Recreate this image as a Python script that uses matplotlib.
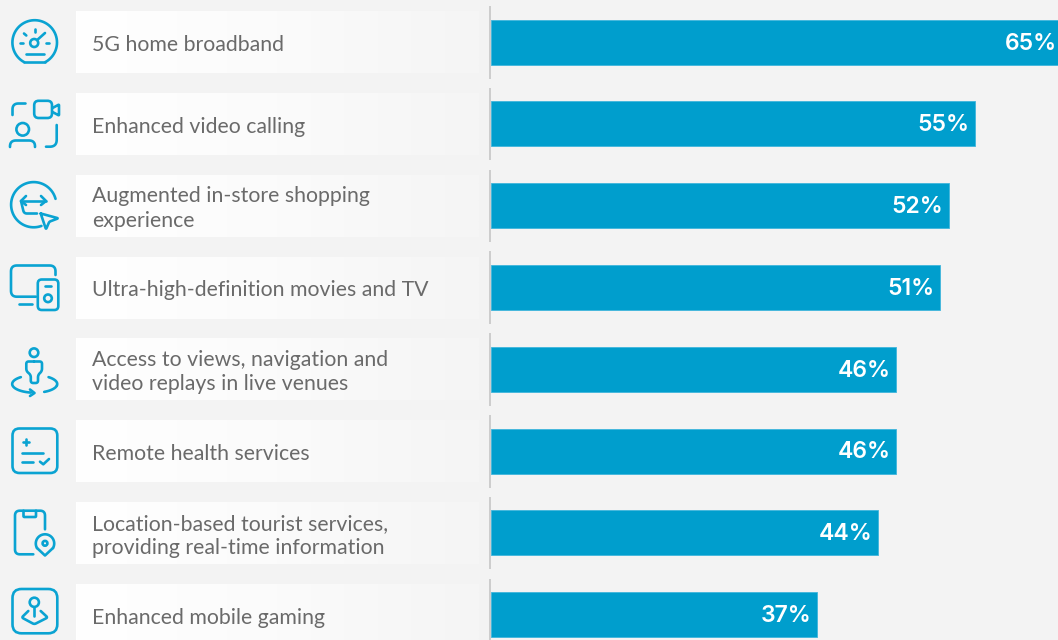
import numpy as np
import matplotlib
matplotlib.use("Agg")
import matplotlib.pyplot as plt
from matplotlib.patches import Circle, FancyBboxPatch
from matplotlib.colors import LinearSegmentedColormap

categories = ["5G home broadband", "Enhanced video calling",
              "Augmented in-store shopping\nexperience",
              "Ultra-high-definition movies and TV",
              "Access to views, navigation and\nvideo replays in live venues",
              "Remote health services",
              "Location-based tourist services,\nproviding real-time information",
              "Enhanced mobile gaming"]
values = [65, 55, 52, 51, 46, 46, 44, 37]

W, H = 1058, 640
BG = "#f3f3f3"; BAR = "#009ecd"; TXT = "#6a6a6a"; ICON = "#0aa3d2"; RULE = "#c9c9c9"

fig = plt.figure(figsize=(W/100, H/100), dpi=100, facecolor=BG)
# pixel-space layer for label plates, rules and icons
bg = fig.add_axes([0, 0, 1, 1]); bg.set_xlim(0, W); bg.set_ylim(H, 0); bg.axis("off")

STEP = 81.8; C0 = 42.5
cmap = LinearSegmentedColormap.from_list("fade", ["#ffffff", "#fbfbfb", "#f5f5f5"])
grad = np.linspace(0, 1, 256).reshape(1, -1)
for i, cat in enumerate(categories):
    c = C0 + STEP*i
    bg.imshow(grad, extent=(76, 479, c+30.8, c-30.8), cmap=cmap, aspect="auto", zorder=1)
    bg.plot([490.3, 490.3], [c-36.5, c+36], color=RULE, lw=1.3, zorder=2, solid_capstyle="butt")
    bg.text(92, c + (2.6 if "\n" in cat else 2.4), cat, color=TXT, fontsize=15.3, family="Lato",
            va="center", ha="left", linespacing=1.275, zorder=3)
bg.set_xlim(0, W); bg.set_ylim(H, 0)

kw = dict(color=ICON, lw=1.9, solid_capstyle="round", solid_joinstyle="round", zorder=3)
def pl(*pts):
    a = np.array(pts); bg.plot(a[:, 0], a[:, 1], **kw)
def circ(x, y, r):
    bg.add_patch(Circle((x, y), r, fill=False, ec=ICON, lw=1.9, zorder=3))
def rrect(x0, y0, x1, y1, r):
    bg.add_patch(FancyBboxPatch((x0+r, y0+r), x1-x0-2*r, y1-y0-2*r, boxstyle=f"round,pad={r},rounding_size={r}",
                                fill=False, ec=ICON, lw=1.9, zorder=3))
def arc(x, y, rx, ry, a0, a1):
    t = np.radians(np.linspace(a0, a1, 60))
    pl(*np.c_[x + rx*np.cos(t), y + ry*np.sin(t)])
def rpath(pts, r=5):
    """polyline with rounded corners"""
    out = [pts[0]]
    for p0, p1, p2 in zip(pts, pts[1:], pts[2:]):
        p0, p1, p2 = map(np.array, (p0, p1, p2))
        a = p1 + (p0-p1)/np.linalg.norm(p0-p1)*r
        b = p1 + (p2-p1)/np.linalg.norm(p2-p1)*r
        for s in np.linspace(0, 1, 12):
            out.append((1-s)**2*a + 2*s*(1-s)*p1 + s**2*b)
    out.append(pts[-1]); pl(*out)

# 1 gauge
arc(34.7, 42.5, 22.3, 22.3, 118, 360+62)
pl((24.3, 62.2), (45.2, 62.2))
circ(34.2, 43, 4)
pl((37.2, 40), (45, 33)); pl((34.5, 29), (34.5, 31.5)); pl((24, 33.5), (26.3, 35.5))
pl((19.8, 43), (22.8, 43)); pl((46, 43), (49.3, 43)); pl((25.5, 54), (43.5, 54))
# 2 video call
rpath([(12.5, 115), (12.5, 103.5), (25.5, 103.5)], 6)
rrect(34.2, 100.8, 52, 118, 4.5)
rpath([(52.5, 108), (59, 104.5), (59, 115.5), (52.5, 112)], 1)
circ(22.7, 129.3, 6.3)
rpath([(10, 147), (10, 140.5), (35, 140.5), (35, 147)], 6)
rpath([(56.7, 125), (56.7, 146.7), (46, 146.7)], 7)
# 3 shopping
arc(33.7, 204.7, 22.6, 22.6, -15, -360+70)
pl((21, 201), (46, 201)); pl((26, 196), (21, 201), (26, 205)); pl((41, 196), (46, 201), (41, 205))
rpath([(21, 201), (24, 213.5), (37, 213.5)], 3)
rpath([(40.7, 213.5), (58.3, 218.3), (49.3, 221.7), (46, 229.3), (40.7, 213.5)], 1.5)
# 4 screens
rpath([(36, 296.7), (11, 296.7), (11, 265.5), (55.5, 265.5), (55.5, 275)], 6)
pl((18.5, 304.3), (31.7, 304.3))
rrect(37.8, 279.5, 58.3, 310, 4)
pl((45, 286), (51, 286)); circ(48, 298.3, 3.8)
# 5 venue
circ(34, 352.7, 4.3)
rpath([(34, 361.5), (26.3, 361.5), (26.3, 371), (30.8, 375), (30.8, 383), (38, 383), (38, 375), (42, 371), (42, 361.5), (34, 361.5)], 2.5)
arc(34.7, 384, 22.5, 8.7, 232, 100)
arc(34.7, 384, 22.5, 8.7, 308, 370)
arc(34.7, 384, 22.5, 8.7, 10, 65)
pl((30, 389.5), (34.5, 393), (30, 396))
# 6 health
rrect(12.5, 428.5, 57.3, 473, 7)
pl((26, 438.5), (26, 445)); pl((22.7, 441.7), (29.3, 441.7))
pl((21.7, 453.3), (42.7, 453.3)); pl((21.7, 461.7), (32.7, 461.7))
pl((40, 461.7), (43.3, 464.3), (49, 459))
# 7 tourist
rpath([(33.3, 554.3), (15, 554.3), (15, 510.7), (45, 510.7), (45, 529.3)], 5)
rpath([(23.5, 510.7), (23.5, 517), (36, 517), (36, 510.7)], 1)
arc(45, 543.5, 9.2, 9.2, 150, 390)
pl((37, 548), (45, 555.5), (53, 548))
circ(45, 543.3, 2.4)
# 8 gaming
rrect(12.5, 589, 57.3, 633.3, 9)
circ(34.3, 602.3, 4.6); pl((34.3, 607), (34.3, 615.7))
rpath([(28.3, 611), (21.7, 617.5), (34.3, 624.3), (47.7, 617.5), (40.7, 611)], 2)

# bars on a real data axis: 8.80 px per percentage point
PX = 8.80
BAR_C0 = 42.0
ax = fig.add_axes([491/W, 0, (W-491)/W, 1], facecolor="none")
ax.set_xlim(0, (W-491)/PX)
ax.set_ylim((H-BAR_C0)/STEP, -BAR_C0/STEP)
bars = ax.barh(range(len(values)), values, height=45/STEP, color=BAR, edgecolor="#3fb5dc", linewidth=0.6, zorder=2)
ax.axis("off")
for i, v in enumerate(values):
    ax.annotate(f"{v}%", (v, i), xytext=(-5.5, -1.5), textcoords="offset pixels", ha="right", va="center",
                color="white", fontsize=16.5, family="Inter", fontweight="semibold", zorder=3, annotation_clip=False)

fig.savefig("out.png", dpi=100, facecolor=BG)
